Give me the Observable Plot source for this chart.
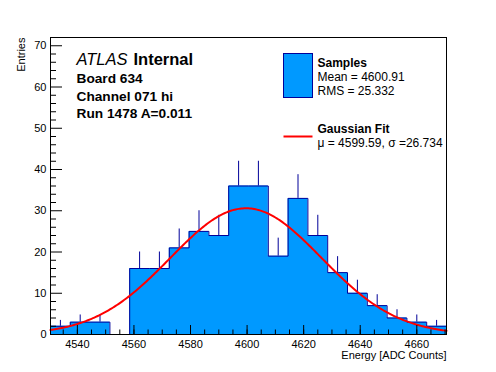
<!DOCTYPE html>
<html><head><meta charset="utf-8">
<script src="https://cdn.jsdelivr.net/npm/d3@7"></script>
<script src="https://cdn.jsdelivr.net/npm/@observablehq/plot@0.6"></script>
<style>body{margin:0;background:#fff}</style>
</head><body><div id="chart"></div>
<script>
// ---- data ----
const binEdges = [4530.5, 4537.5, 4544.5, 4551.5, 4558.5, 4565.5, 4572.5, 4579.5, 4586.5, 4593.5, 4600.5,
                  4607.5, 4614.5, 4621.5, 4628.5, 4635.5, 4642.5, 4649.5, 4656.5, 4663.5, 4670.5];
const counts = [2, 3, 3, 0, 16, 16, 21, 25, 24, 36, 36, 19, 33, 24, 15, 10, 7, 4, 3, 2];
const xTicks = [4540, 4560, 4580, 4600, 4620, 4640, 4660];
const xMinorTicks = [4535,4540,4545,4550,4555,4560,4565,4570,4575,4580,4585,4590,4595,4600,4605,4610,4615,4620,4625,4630,4635,4640,4645,4650,4655,4660,4665,4670];
const yTicks = [0, 10, 20, 30, 40, 50, 60, 70];
const yMinorTicks = [2,4,6,8,12,14,16,18,22,24,26,28,32,34,36,38,42,44,46,48,52,54,56,58,62,64,66,68];
const fitMu = 4599.59, fitSigma = 26.734, fitAmp = 30.6;
const infoLines = ["Board 634", "Channel 071 hi", "Run 1478 A=0.011"];
const legendSamples = ["Mean = 4600.91", "RMS = 25.332"];
const legendFit = "μ = 4599.59, σ =26.734";
const xDomain = [4530.5, 4670.5], yDomain = [0, 72];

// ---- derived tables ----
const bins = counts.map((n, i) => ({lo: binEdges[i], hi: binEdges[i + 1], n}));
const outline = [{x: binEdges[0], y: 0}, ...bins.map(b => ({x: b.lo, y: b.n})),
                 {x: binEdges[binEdges.length - 1], y: counts[counts.length - 1]},
                 {x: binEdges[binEdges.length - 1], y: 0}];
const fillPts = [...bins.map(b => ({x: b.lo, y: b.n})),
                 {x: binEdges[binEdges.length - 1], y: counts[counts.length - 1]}];
const fitX = d3.range(xDomain[0], xDomain[1] + 0.001, 0.5);
const fitPts = fitX.map(x => ({x, y: fitAmp * Math.exp(-0.5 * ((x - fitMu) / fitSigma) ** 2)}));

const W = 496, H = 372, mL = 50, mR = 50, mT = 37, mB = 38;
const fw = W - mL - mR, fh = H - mT - mB;
const F = "Liberation Sans, Arial, Helvetica, sans-serif";
const blue = "#0099ff", navy = "#000099";

const txt = (t, o) => Plot.text([t], {text: d => d, frameAnchor: "top-left", textAnchor: "start", lineAnchor: "bottom", fill: "#000", ...o});

const chart = Plot.plot({
  width: W, height: H,
  marginLeft: mL, marginRight: mR, marginTop: mT, marginBottom: mB,
  style: {fontFamily: F, fontSize: "11px", background: "#fff", color: "#000"},
  x: {domain: xDomain, axis: null},
  y: {domain: yDomain, axis: null},
  marks: [
    Plot.areaY(fillPts, {x: "x", y: "y", curve: "step-after", fill: blue}),
    Plot.line(outline, {x: "x", y: "y", curve: "step-after", stroke: navy, strokeWidth: 1}),
    Plot.ruleX(bins.filter(b => b.n > 0), {x: b => (b.lo + b.hi) / 2, y1: "n", y2: b => b.n + Math.sqrt(b.n), stroke: navy, strokeWidth: 1}),
    Plot.line(fitPts, {x: "x", y: "y", stroke: "#ff0000", strokeWidth: 2}),
    // ticks (inside frame)
    Plot.ruleY(yTicks, {y: d => d, insetRight: fw - 12, stroke: "#000"}),
    Plot.ruleY(yMinorTicks, {y: d => d, insetRight: fw - 6, stroke: "#000"}),
    Plot.ruleX(xTicks, {x: d => d, insetTop: fh - 9, stroke: "#000"}),
    Plot.ruleX(xMinorTicks, {x: d => d, insetTop: fh - 4.5, stroke: "#000"}),
    Plot.frame({stroke: "#000", strokeWidth: 1}),
    // tick labels
    Plot.text(yTicks, {y: d => d, text: d => String(d), frameAnchor: "left", dx: -4, textAnchor: "end", lineAnchor: "middle", fontSize: 11, fill: "#000"}),
    Plot.text(xTicks, {x: d => d, text: d => String(d), frameAnchor: "bottom", dy: 13.5, lineAnchor: "bottom", fontSize: 11, fill: "#000"}),
    // axis titles
    Plot.text(["Energy [ADC Counts]"], {text: d => d, frameAnchor: "bottom-right", dy: 24, textAnchor: "end", lineAnchor: "bottom", fontSize: 11, fill: "#000"}),
    Plot.text(["Entries"], {text: d => d, frameAnchor: "top-left", dx: -26, dy: 0, rotate: -90, textAnchor: "end", lineAnchor: "bottom", fontSize: 11, fill: "#000"}),
    // info text
    txt("ATLAS", {dx: 26, dy: 27, fontSize: 16.5, fontStyle: "italic"}),
    txt("Internal", {dx: 83, dy: 27, fontSize: 16.5, fontWeight: "bold"}),
    ...infoLines.map((t, i) => txt(t, {dx: 26, dy: 45.5 + i * 17.5, fontSize: 13.7, fontWeight: "bold"})),
    // legend
    Plot.frame({fill: blue, stroke: navy, strokeWidth: 1, insetLeft: 233, insetRight: 134, insetTop: 16, insetBottom: 237}),
    Plot.frame({fill: "#ff0000", stroke: "none", insetLeft: 233, insetRight: 134, insetTop: 98, insetBottom: 197}),
    txt("Samples", {dx: 267, dy: 29, fontSize: 12, fontWeight: "bold"}),
    ...legendSamples.map((t, i) => txt(t, {dx: 267, dy: 43.5 + i * 14, fontSize: 12})),
    txt("Gaussian Fit", {dx: 267, dy: 95, fontSize: 12, fontWeight: "bold"}),
    txt(legendFit, {dx: 267, dy: 109, fontSize: 12})
  ]
});
document.getElementById("chart").appendChild(chart);
</script>
</body></html>
